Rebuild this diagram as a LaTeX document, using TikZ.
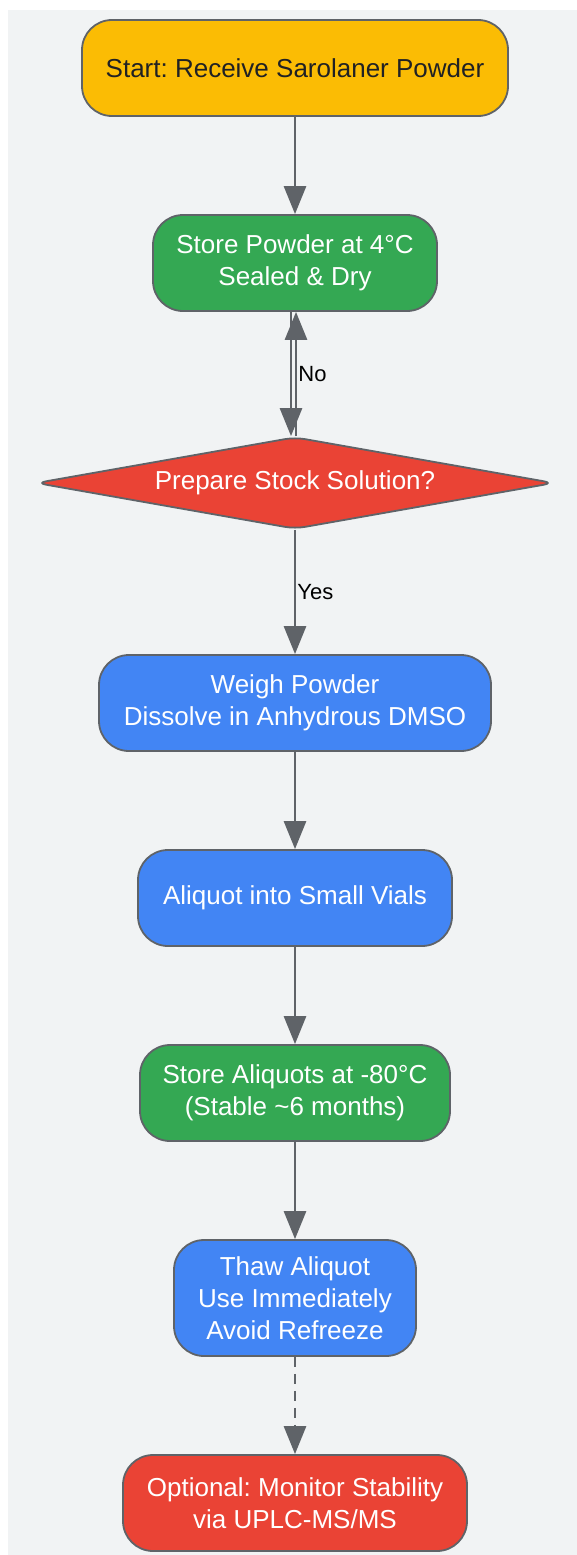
\documentclass[tikz,border=0pt]{standalone}
\usepackage{fontspec}
\setmainfont{Liberation Sans}
\usetikzlibrary{shapes.geometric,arrows.meta}
\definecolor{bgGray}{HTML}{F1F3F4}
\definecolor{lineGray}{HTML}{5F6368}
\definecolor{gYellow}{HTML}{FBBC04}
\definecolor{gGreen}{HTML}{34A853}
\definecolor{gRed}{HTML}{EA4335}
\definecolor{gBlue}{HTML}{4285F4}
\definecolor{txtDark}{HTML}{202124}
\frenchspacing
\tikzset{
  stepbox/.style={draw=lineGray, line width=1.8pt, rounded corners=30pt, align=center,
    minimum height=96pt, text=white, font=\fontsize{26}{32}\selectfont},
  decision/.style={diamond, aspect=5.7, draw=lineGray, line width=1.8pt, rounded corners=10pt, fill=gRed,
    text=white, minimum width=518pt, minimum height=92pt, inner sep=0pt,
    font=\fontsize{26}{32}\selectfont},
  flow/.style={draw=lineGray, line width=2.8pt, -{Triangle[length=28pt,width=22pt]}},
  edgelabel/.style={font=\fontsize{22}{26}\selectfont, text=black, inner sep=1pt}
}
\begin{document}
\begin{tikzpicture}[x=1pt, y=-1pt, line join=round]
  \useasboundingbox (0,0) rectangle (577,1555);
  \fill[bgGray] (8,10) rectangle (577,1555);
  % nodes
  \node[stepbox, fill=gYellow, text=txtDark, minimum width=426pt] (start) at (295,68) {Start: Receive Sarolaner Powder};
  \node[stepbox, fill=gGreen, minimum width=284pt] (storepow) at (295,263) {Store Powder at 4°C\\Sealed \& Dry};
  \node[decision] (prep) at (295,483) {Prepare Stock Solution?};
  \node[stepbox, fill=gBlue, minimum width=392pt] (weigh) at (295,703) {Weigh Powder\\Dissolve in Anhydrous DMSO};
  \node[stepbox, fill=gBlue, minimum width=314pt] (aliquot) at (295,898) {Aliquot into Small Vials};
  \node[stepbox, fill=gGreen, minimum width=310pt] (storealq) at (295,1093) {Store Aliquots at -80°C\\(Stable \textasciitilde 6 months)};
  \node[stepbox, fill=gBlue, minimum width=242pt, minimum height=116pt] (thaw) at (295,1298) {Thaw Aliquot\\Use Immediately\\Avoid Refreeze};
  \node[stepbox, fill=gRed, minimum width=344pt] (monitor) at (295,1503) {Optional: Monitor Stability\\via UPLC-MS/MS};
  % connectors
  \draw[flow] ([xshift=-4pt]storepow.south) -- ([xshift=-4pt]prep.north);
  \draw[flow] ([xshift=1pt]prep.north) -- node[edgelabel, right, pos=0.5] (nolbl) {No} ([xshift=1pt]storepow.south);
  \draw[flow] (start) -- (storepow);
  \draw[flow] (prep) -- node[edgelabel, right, pos=0.5] (yeslbl) {Yes} (weigh);
  \draw[flow] (weigh) -- (aliquot);
  \draw[flow] (aliquot) -- (storealq);
  \draw[flow] (storealq) -- (thaw);
  \draw[flow, dash pattern=on 10pt off 7pt] (thaw) -- (monitor);
\end{tikzpicture}
\end{document}
